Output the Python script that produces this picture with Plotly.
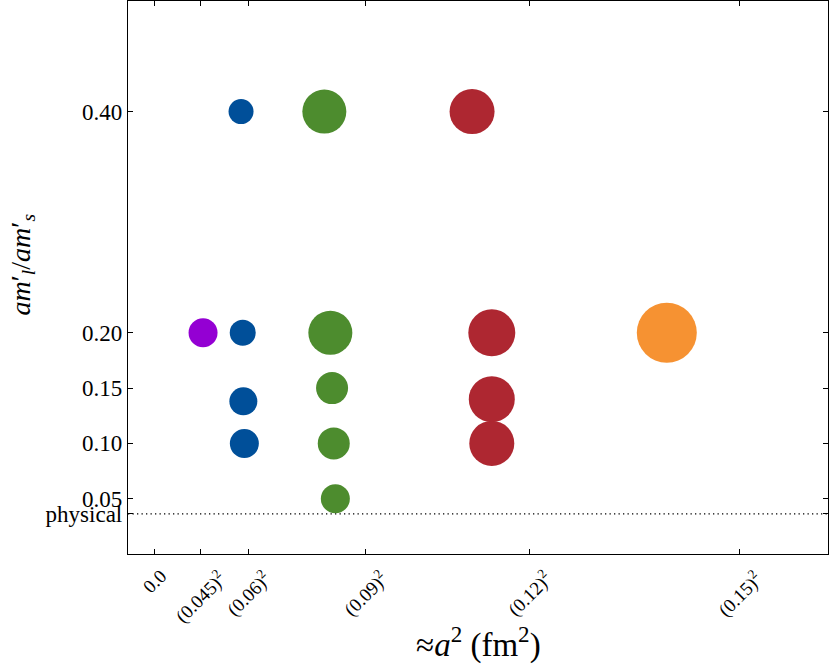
import plotly.graph_objects as go

# ---- data ----
purple_x = [0.001865]
purple_y = [0.20]
purple_size = [29]

blue_x = [0.003326, 0.003391, 0.003414, 0.003453]
blue_y = [0.40, 0.20, 0.138, 0.10]
blue_size = [25, 26, 28, 29]

green_x = [0.006528, 0.006759, 0.006825, 0.006890, 0.006951]
green_y = [0.40, 0.20, 0.15, 0.10, 0.05]
green_size = [44, 44, 32, 32, 29]

red_x = [0.012207, 0.012965, 0.012965, 0.012965]
red_y = [0.40, 0.20, 0.14, 0.10]
red_size = [45, 47, 46, 45]

orange_x = [0.019693]
orange_y = [0.20]
orange_size = [60]

physical = [0.0362]

x_tickvals = [0.0, 0.001764, 0.0036, 0.0081, 0.0144, 0.0225]
x_ticktext = ["0.0", "(0.045)<sup>2</sup>", "(0.06)<sup>2</sup>", "(0.09)<sup>2</sup>",
              "(0.12)<sup>2</sup>", "(0.15)<sup>2</sup>"]
y_tickvals = [physical[0], 0.05, 0.10, 0.15, 0.20, 0.40]
y_ticktext = ["physical", "0.05", "0.10", "0.15", "0.20", "0.40"]

series = [
    (purple_x, purple_y, purple_size, "#9400d3"),
    (blue_x, blue_y, blue_size, "#004f99"),
    (green_x, green_y, green_size, "#4d8c2e"),
    (red_x, red_y, red_size, "#ae2731"),
    (orange_x, orange_y, orange_size, "#f69232"),
]

FONT = "Liberation Serif"

fig = go.Figure()
for xs, ys, ss, col in series:
    fig.add_trace(go.Scatter(
        x=xs, y=ys, mode="markers",
        marker=dict(size=ss, color=col, line=dict(width=0), opacity=1),
        showlegend=False, hoverinfo="skip",
    ))

fig.add_shape(type="line", xref="paper", x0=0, x1=1, yref="y",
              y0=physical[0], y1=physical[0],
              line=dict(color="black", width=1.3, dash="1.3px,3.2px"), layer="below")

# rotated x tick labels centred under their ticks (matplotlib style)
for v, t in zip(x_tickvals, x_ticktext):
    fig.add_annotation(x=v, xref="x", y=0, yref="paper", text=t,
                       textangle=-45, showarrow=False,
                       xanchor="center", yanchor="top", yshift=-9,
                       font=dict(family=FONT, size=19, color="black"))

# axis titles
fig.add_annotation(x=0.5, xref="paper", y=0, yref="paper",
                   text="≈<i>a</i><sup>2</sup> (fm<sup>2</sup>)",
                   showarrow=False, xanchor="center", yanchor="middle", yshift=-88,
                   font=dict(family=FONT, size=33, color="black"))
fig.add_annotation(x=0, xref="paper", y=0.5, yref="paper",
                   text="<i>am</i>′<sub><i>l</i></sub>/<i>am</i>′<sub><i>s</i></sub>",
                   textangle=-90, showarrow=False, xanchor="center", yanchor="middle",
                   xshift=-106, yshift=13,
                   font=dict(family=FONT, size=28, color="black"))

fig.update_layout(
    width=830, height=664,
    margin=dict(l=128, r=2, t=1, b=110),
    paper_bgcolor="white", plot_bgcolor="white",
    font=dict(family=FONT, color="black", size=17),
    xaxis=dict(
        range=[-0.00102, 0.02589], automargin=False,
        tickmode="array", tickvals=x_tickvals, ticktext=x_ticktext,
        showticklabels=False,
        ticks="inside", ticklen=5, tickcolor="black",
        showline=True, linecolor="black", linewidth=1.3, mirror="ticks",
        showgrid=False, zeroline=False,
    ),
    yaxis=dict(
        range=[0, 0.5], automargin=False,
        tickmode="array", tickvals=y_tickvals, ticktext=y_ticktext,
        ticks="inside", ticklen=5, tickcolor="black",
        showline=True, linecolor="black", linewidth=1.3, mirror="ticks",
        showgrid=False, zeroline=False,
        tickfont=dict(family=FONT, size=23),
    ),
)

fig.write_html("out.html", config={"displayModeBar": False},
               post_script="document.body.style.margin='0';document.body.style.overflow='hidden';")
